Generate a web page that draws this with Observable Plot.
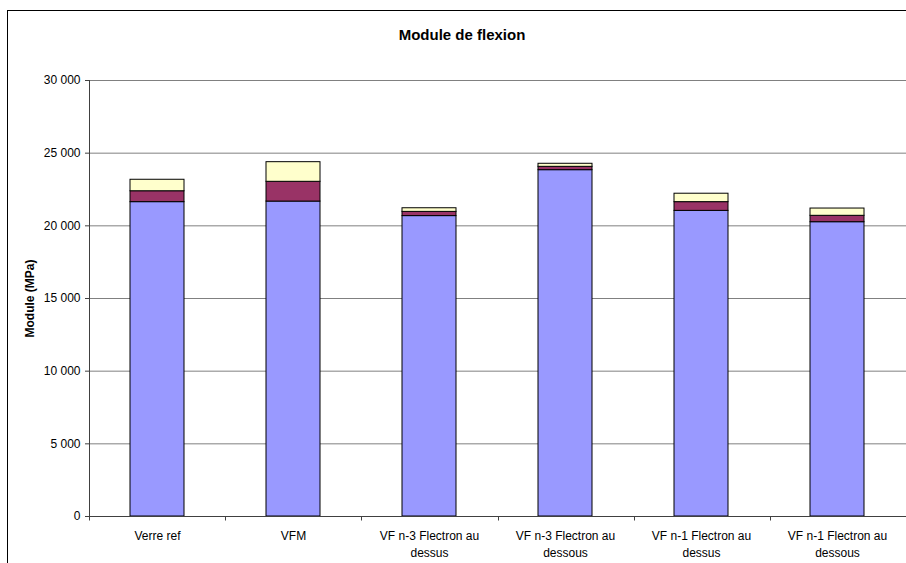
<!DOCTYPE html>
<html><head><meta charset="utf-8">
<script src="https://cdn.jsdelivr.net/npm/d3@7"></script>
<script src="https://cdn.jsdelivr.net/npm/@observablehq/plot@0.6"></script>
<style>
html,body{margin:0;padding:0;background:#fff;overflow:hidden}
#wrap{position:relative;width:906px;height:563px;font-family:"Liberation Sans",Arial,sans-serif;overflow:hidden}
#frame{position:absolute;left:7px;top:10px;width:1000px;height:1000px;border:1px solid #000;box-sizing:border-box}
#title{position:absolute;top:26px;left:262px;width:400px;text-align:center;font-weight:bold;font-size:15px;line-height:18px;color:#000}
#chart{position:absolute;left:0;top:0}
</style></head><body>
<div id="wrap"><div id="frame"></div><div id="chart"></div><div id="title">Module de flexion</div></div>
<script>
const categories = ["Verre ref", "VFM", "VF n-3 Flectron au dessus", "VF n-3 Flectron au dessous", "VF n-1 Flectron au dessus", "VF n-1 Flectron au dessous"];
const seriesNames = ["Série 1", "Série 2", "Série 3"];
const serie1 = [21630, 21670, 20670, 23830, 21030, 20250];
const serie2 = [750, 1360, 290, 230, 600, 440];
const serie3 = [790, 1350, 250, 210, 580, 500];
const colors = ["#9999FF", "#993366", "#FFFFCC"];
const yTicks = [0, 5000, 10000, 15000, 20000, 25000, 30000];

const seriesValues = [serie1, serie2, serie3];
const data = [];
seriesNames.forEach((s, si) => categories.forEach((c, ci) => data.push({cat: c, serie: s, value: seriesValues[si][ci]})));

const fmt = d => d3.format(",")(d).replace(/,/g, " ");
const wrap = d => d.replace(/ (dessus|dessous)$/, "\n$1");

const boundaryTicks = (index, scales, values, dims) => {
  const g = d3.create("svg:g").attr("stroke", "#404040");
  const y0 = Math.round(scales.y(0)) + 0.5;
  const n = categories.length;
  const step = (dims.width - dims.marginLeft - dims.marginRight) / n;
  for (let i = 0; i <= n; i++) {
    const x = Math.round(dims.marginLeft + i * step) + 0.5;
    g.append("line").attr("x1", x).attr("x2", x).attr("y1", y0).attr("y2", y0 + 4);
  }
  return g.node();
};

const chart = Plot.plot({
  width: 906,
  height: 563,
  marginLeft: 89,
  marginRight: 0,
  marginTop: 80,
  marginBottom: 47,
  style: {fontFamily: "'Liberation Sans', Arial, sans-serif", fontSize: "12px", color: "#000", background: "transparent"},
  x: {type: "band", domain: categories, paddingInner: 0.6, paddingOuter: 0.3, axis: null},
  y: {domain: [0, 30000], axis: null},
  color: {domain: seriesNames, range: colors},
  marks: [
    Plot.gridY(yTicks, {stroke: "#808080", strokeOpacity: 1}),
    Plot.barY(data, {x: "cat", y: "value", fill: "serie", stroke: "#000", strokeWidth: 1}),
    Plot.frame({anchor: "left", stroke: "#404040"}),
    Plot.frame({anchor: "bottom", stroke: "#404040"}),
    Plot.axisY({ticks: yTicks, tickSize: 4, tickPadding: 5, tickFormat: fmt, stroke: "#404040", fontSize: 12,
      label: "Module (MPa)", labelAnchor: "center", labelOffset: 64, labelArrow: "none"}),
    Plot.axisX({tickSize: 0, tickPadding: 12, tickFormat: wrap, fontSize: 12, lineHeight: 1.4, label: null}),
    boundaryTicks
  ]
});
d3.select(chart).selectAll("[aria-label='y-axis label'] text, [aria-label='y-axis label']").style("font-weight", "bold");
document.getElementById("chart").appendChild(chart);
</script>
</body></html>
